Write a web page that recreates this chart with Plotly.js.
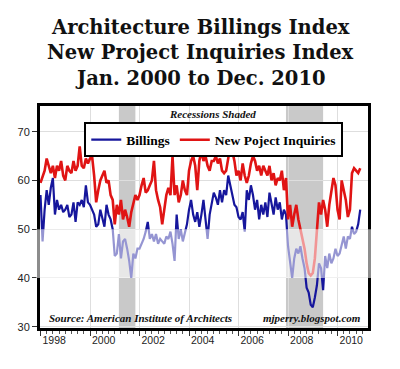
<!DOCTYPE html>
<html>
<head>
<meta charset="utf-8">
<script src="https://cdn.plot.ly/plotly-3.0.1.min.js"></script>
<style>
html,body{margin:0;padding:0;background:#fff;}
#chart{width:400px;height:369px;}
</style>
</head>
<body>
<div id="chart"></div>
<script>
// Monthly values, Jan 1998 .. Dec 2010
var years = [1998,1999,2000,2001,2002,2003,2004,2005,2006,2007,2008,2009,2010];
var billings = [
  57,47.5,54,58,55,58.5,60.5,53,56,54,55,53.5,
  54,55,52.5,53,55.5,51.5,55.5,55,56,54.5,59,55.5,
  55,54,53,50.5,51,54,52,50.5,55,53,52,50,
  44.5,45,49,44,47.5,48,46,43.5,40,45,44,46,
  46,47,48,49.5,51.5,48,49,47.5,49,47,48,47.5,
  47,48.5,48,49.5,47,43.5,53,48,50,47.5,49,51,
  54,56,53,51.5,53.5,50.5,53,56,52,48,53,55,
  57.5,56.5,55,58,55.5,58,57,61,59,57,55,54.5,
  52.5,52,53.5,49.5,58,56,59,57,54,56,52,55,
  53,55.5,52.5,57.5,55,53,56.5,54,55.5,52,54,53,
  46.5,43,40,44,46,45,46.5,44,42,38,37,34.5,
  34,36,38.5,43,42,37.5,44.5,42,45,43,44,46,
  44.5,45,47,48.5,46,48.5,48,50.5,49,49.5,51,54
];
var inquiries = [
  59.5,61,62,64.5,63,61.5,63,60.5,63,62,64,61,
  60,63,62,61.5,64,62,63,67,63,62.5,64.5,63.5,
  64.5,65,61,55.5,58,60,61,62,59.5,60,57,56,
  51,55,53,56,52,54,52.5,50.5,53.5,55,57,56,
  57,59,60.5,57.5,58,59,60,64,58,56,54.5,51,
  54,57,58.5,57,65,57,59,55.5,57,60,58,57,
  62,64,65,63,58,64,66,64,65,63,62,64,
  64,65,63.5,64.5,62,61.5,62,65,67,66,64,61,
  62,60,63.5,61,59.5,61,63.5,65,64,62,63,61,
  63,62,61,63,60,61.5,59,60.5,60,62,58,60.5,
  52,55,50.5,53,55,52,50,48,46,43,41,40.5,
  41,44,50,55.5,53,56,54,50.5,55,58,60.5,59,
  54,52,60,58,56,52.5,54,61.5,62.5,62,61.5,62.5
];
var seriesNames = ["Billings", "New Poject Inquiries"];
var titleLines = ["Architecture Billings Index", "New Project Inquiries Index", "Jan. 2000 to Dec. 2010"];
var recessions = [[2001 + 2/12, 2001 + 10/12], [2007 + 11/12, 2009 + 5/12]];
var tickYears = [1998, 2000, 2002, 2004, 2006, 2008, 2010];

var dates = [];
years.forEach(function (y) { for (var m = 0; m < 12; m++) dates.push(y + m / 12); });

var traces = [
  {x: dates, y: billings, name: '<b>' + seriesNames[0] + '</b>', type: 'scatter', mode: 'lines',
   line: {color: '#16169c', width: 2.2}},
  {x: dates, y: inquiries, name: '<b>' + seriesNames[1] + '</b>', type: 'scatter', mode: 'lines',
   line: {color: '#e01414', width: 2.6}}
];

var shapes = recessions.map(function (r) {
  return {type: 'rect', xref: 'x', yref: 'paper', x0: r[0], x1: r[1], y0: 0, y1: 1,
          fillcolor: '#c9c9c9', line: {width: 0}, layer: 'below'};
});
// faded band (watermark overlay in the reference)
shapes.push({type: 'rect', xref: 'paper', yref: 'y', x0: -0.012, x1: 1.015, y0: 40, y1: 50,
             fillcolor: 'rgba(255,255,255,0.55)', line: {width: 0}, layer: 'above'});

var serif = 'DejaVu Serif';
var tserif = 'Liberation Serif';
var titleY = [1.354, 1.240, 1.126];
var annotations = titleLines.map(function (t, i) {
  return {text: '<b>' + t + '</b>', xref: 'paper', yref: 'paper', x: 0.49, y: titleY[i],
          showarrow: false, xanchor: 'center', yanchor: 'middle', borderpad: 0,
          font: {family: serif, size: 19.5, color: '#111'}};
});
annotations.push(
  {text: '<b><i>Recessions Shaded</i></b>', xref: 'paper', yref: 'paper', x: 0.527, y: 0.962,
   showarrow: false, xanchor: 'center', yanchor: 'middle', borderpad: 0, font: {family: tserif, size: 11, color: '#111'}},
  {text: '<b><i>Source: American Institute of Architects</i></b>', xref: 'paper', yref: 'paper', x: 0.02, y: 0.045,
   showarrow: false, xanchor: 'left', yanchor: 'middle', font: {family: tserif, size: 11, color: '#111'}},
  {text: '<b><i>mjperry.blogspot.com</i></b>', xref: 'paper', yref: 'paper', x: 0.985, y: 0.045,
   showarrow: false, xanchor: 'right', yanchor: 'middle', font: {family: tserif, size: 11, color: '#111'}}
);

var layout = {
  width: 400, height: 369,
  font: {family: tserif, color: '#000'},
  margin: {l: 40, r: 32, t: 106, b: 41},
  paper_bgcolor: '#fff', plot_bgcolor: '#fff',
  showlegend: true,
  legend: {orientation: 'h', x: 0.135, y: 0.926, xanchor: 'left', yanchor: 'top',
           bgcolor: '#fff', bordercolor: '#000', borderwidth: 2,
           font: {family: tserif, size: 13.5, color: '#000'},
           itemwidth: 30, tracegroupgap: 0},
  xaxis: {range: [1997.98, 2011.23], tickvals: tickYears, ticktext: tickYears.map(String),
          ticklabelposition: 'outside right',
          ticks: 'outside', ticklen: 5, tickcolor: '#333', tickwidth: 1,
          minor: {dtick: 0.25, tick0: 1998, ticks: 'outside', ticklen: 3, tickcolor: '#555', showgrid: false},
          showgrid: true, gridcolor: '#dedede', gridwidth: 1, zeroline: false,
          showline: true, linecolor: '#000', linewidth: 3, mirror: true,
          tickfont: {family: 'Liberation Sans', size: 10.5, color: '#222'}},
  yaxis: {range: [29.73, 75.27], tickvals: [30, 40, 50, 60, 70],
          ticks: 'outside', ticklen: 5, tickcolor: '#333',
          showgrid: true, gridcolor: '#dedede', zeroline: false,
          showline: true, linecolor: '#000', linewidth: 3, mirror: true,
          tickfont: {family: 'Liberation Sans', size: 11, color: '#222'}},
  shapes: shapes,
  annotations: annotations
};

Plotly.newPlot('chart', traces, layout, {displayModeBar: false, staticPlot: true});
</script>
</body>
</html>
